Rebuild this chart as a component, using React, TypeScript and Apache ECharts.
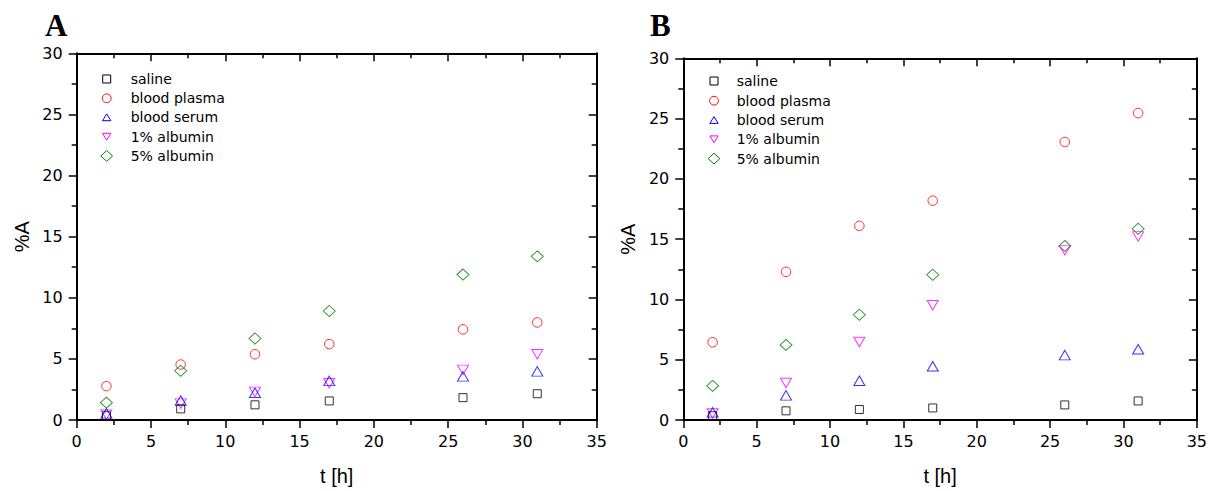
import React, { useEffect, useRef } from "react";
import * as echarts from "echarts";

const xValues = [2, 7, 12, 17, 26, 31];
const seriesNames = ["saline", "blood plasma", "blood serum", "1% albumin", "5% albumin"];
const panelLabels = ["A", "B"];

// Panel A
const salineA = [0.35, 0.91, 1.24, 1.56, 1.83, 2.15];
const plasmaA = [2.77, 4.54, 5.38, 6.21, 7.42, 7.98];
const serumA = [0.54, 1.6, 2.23, 3.2, 3.57, 3.98];
const alb1A = [0.43, 1.34, 2.3, 3.0, 4.1, 5.38];
const alb5A = [1.42, 4.03, 6.67, 8.92, 11.9, 13.39];

// Panel B
const salineB = [0.35, 0.76, 0.87, 1.0, 1.25, 1.58];
const plasmaB = [6.45, 12.29, 16.1, 18.19, 23.06, 25.46];
const serumB = [0.63, 2.04, 3.26, 4.46, 5.38, 5.87];
const alb1B = [0.54, 3.07, 6.47, 9.52, 14.09, 15.23];
const alb5B = [2.83, 6.23, 8.73, 12.05, 14.44, 15.86];

const panelData = [
  [salineA, plasmaA, serumA, alb1A, alb5A],
  [salineB, plasmaB, serumB, alb1B, alb5B],
];

const colors = ["#000000", "#ff0000", "#0000ff", "#ff00ff", "#008000"];
const symbols = ["rect", "circle", "triangle", "triangle", "diamond"];
const symbolRotates = [0, 0, 0, 180, 0];
const symbolSizes: any[] = [[8, 8], 9.5, [11, 9.5], [11, 9.5], [12, 11]];

const grids = [
  { left: 76.7, top: 53.3, width: 520, height: 372.4 },
  { left: 683.3, top: 58.3, width: 515.7, height: 367.4 },
];

const legendPos = [
  { iconX: 106.7, textX: 130.7, rows: [79, 98.3, 117.3, 136.7, 155.9] },
  { iconX: 714, textX: 736.7, rows: [81, 100.7, 120, 139.3, 158.6] },
];

const letterPos = [
  { x: 45, y: 25 },
  { x: 650, y: 25 },
];

const tickFont = "DejaVu Sans";
const titleFont = "Liberation Sans";

function legendIcon(kind: number, cx: number, cy: number, color: string) {
  const style = { fill: "none", stroke: color, lineWidth: 1 };
  if (kind === 0) {
    return { type: "rect", shape: { x: cx - 4, y: cy - 4, width: 8, height: 8 }, style };
  }
  if (kind === 1) {
    return { type: "circle", shape: { cx, cy, r: 4.4 }, style };
  }
  if (kind === 2) {
    return {
      type: "polygon",
      shape: { points: [[cx - 4.2, cy + 3.4], [cx + 4.2, cy + 3.4], [cx, cy - 3.4]] },
      style,
    };
  }
  if (kind === 3) {
    return {
      type: "polygon",
      shape: { points: [[cx - 4.2, cy - 3.4], [cx + 4.2, cy - 3.4], [cx, cy + 3.4]] },
      style,
    };
  }
  return {
    type: "polygon",
    shape: { points: [[cx, cy - 5.4], [cx + 5.9, cy], [cx, cy + 5.4], [cx - 5.9, cy]] },
    style,
  };
}

export default function App() {
  const ref = useRef<HTMLDivElement>(null);

  useEffect(() => {
    if (!ref.current) return;
    const chart = echarts.init(ref.current, null, { renderer: "svg" });

    const xAxes: any[] = [];
    const yAxes: any[] = [];
    const series: any[] = [];
    const graphics: any[] = [];

    grids.forEach((_, gi) => {
      const base = {
        gridIndex: gi,
        type: "value",
        interval: 5,
        axisLine: { show: true, onZero: false, lineStyle: { color: "#000", width: 2 } },
        splitLine: { show: false },
        minorTick: { show: true, splitNumber: 2, length: 5, lineStyle: { color: "#000", width: 1.5 } },
        minorSplitLine: { show: false },
      };
      xAxes.push({
        ...base,
        position: "bottom",
        min: 0,
        max: 35,
        axisTick: { show: true, length: 8, inside: false, lineStyle: { color: "#000", width: 1.5 } },
        axisLabel: { show: true, color: "#000", fontSize: 16, fontFamily: tickFont, margin: 13 },
        name: "t [h]",
        nameLocation: "middle",
        nameGap: 46,
        nameTextStyle: { color: "#000", fontSize: 20, fontFamily: titleFont },
      });
      xAxes.push({
        ...base,
        position: "top",
        min: 0,
        max: 35,
        axisTick: { show: true, length: 8, inside: true, lineStyle: { color: "#000", width: 1.5 } },
        axisLabel: { show: false },
      });
      yAxes.push({
        ...base,
        position: "left",
        min: 0,
        max: 30,
        axisTick: { show: true, length: 8, inside: false, lineStyle: { color: "#000", width: 1.5 } },
        axisLabel: { show: true, color: "#000", fontSize: 16, fontFamily: tickFont, margin: 14 },
        name: "%A",
        nameLocation: "middle",
        nameGap: 45,
        nameTextStyle: { color: "#000", fontSize: 20, fontFamily: titleFont },
      });
      yAxes.push({
        ...base,
        position: "right",
        min: 0,
        max: 30,
        axisTick: { show: true, length: 8, inside: true, lineStyle: { color: "#000", width: 1.5 } },
        axisLabel: { show: false },
      });

      panelData[gi].forEach((vals, si) => {
        series.push({
          type: "scatter",
          name: seriesNames[si],
          xAxisIndex: gi * 2,
          yAxisIndex: gi * 2,
          symbol: symbols[si],
          symbolRotate: symbolRotates[si],
          symbolSize: symbolSizes[si],
          itemStyle: { color: "rgba(0,0,0,0)", borderColor: colors[si], borderWidth: 1 },
          emphasis: { disabled: true },
          data: xValues.map((x, i) => [x, vals[i]]),
          z: 10 - si,
        });
      });

      const lp = legendPos[gi];
      seriesNames.forEach((nm, si) => {
        graphics.push(legendIcon(si, lp.iconX, lp.rows[si], colors[si]));
        graphics.push({
          type: "text",
          x: lp.textX,
          y: lp.rows[si],
          style: {
            text: nm,
            fill: "#000",
            fontSize: 14,
            fontFamily: tickFont,
            align: "left",
            verticalAlign: "middle",
          },
        });
      });

      graphics.push({
        type: "text",
        x: letterPos[gi].x,
        y: letterPos[gi].y,
        style: {
          text: panelLabels[gi],
          fill: "#000",
          fontSize: 31,
          fontWeight: "bold",
          fontFamily: "Liberation Serif",
          align: "left",
          verticalAlign: "middle",
        },
      });
    });

    chart.setOption({
      animation: false,
      backgroundColor: "#ffffff",
      grid: grids.map((g) => ({ ...g, show: false, containLabel: false })),
      xAxis: xAxes,
      yAxis: yAxes,
      series,
      graphic: graphics,
    });

    return () => {
      chart.dispose();
    };
  }, []);

  return (
    <div
      ref={ref}
      style={{ position: "fixed", left: 0, top: 0, width: 1210, height: 491 }}
    />
  );
}
